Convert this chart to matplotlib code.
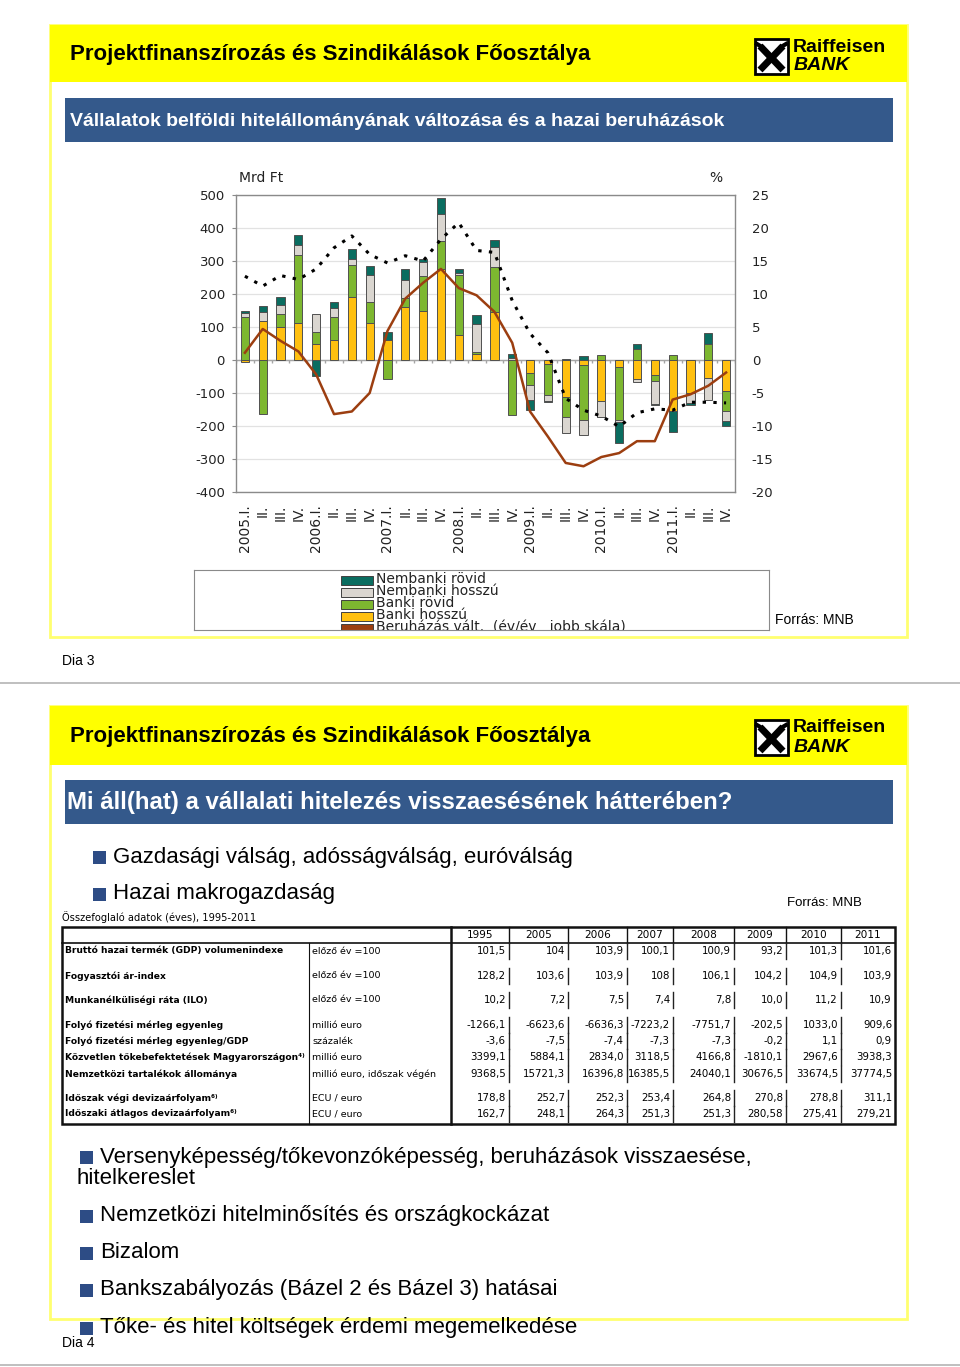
import matplotlib
matplotlib.use('Agg')
import matplotlib.pyplot as plt
from matplotlib.patches import Rectangle
import numpy as np

plt.rcParams['axes.unicode_minus'] = False

# ---------------- data: chart ----------------
quarters = ['2005.I.', 'II.', 'III.', 'IV.',
            '2006.I.', 'II.', 'III.', 'IV.',
            '2007.I.', 'II.', 'III.', 'IV.',
            '2008.I.', 'II.', 'III.', 'IV.',
            '2009.I.', 'II.', 'III.', 'IV.',
            '2010.I.', 'II.', 'III.', 'IV.',
            '2011.I.', 'II.', 'III.', 'IV.']
banki_hosszu = [-6, 117, 100, 112, 49, 60, 190, 113, 62, 161, 149, 277, 76, 17,
                146, 0, -40, -12, -112, -14, -123, -22, -58, -45, -156, -100, -56, -94]
banki_rovid = [131, -164, 40, 207, 35, 70, 97, 63, -57, 27, 106, 84, 181, 7,
               136, -166, -37, -94, -62, -169, 16, -159, 34, -20, 16, 0, 50, -60]
nembanki_hosszu = [10, 28, 26, 30, 55, 28, 19, 81, 0, 54, 42, 80, 8, 86,
                   61, 6, -44, -17, -48, -44, -49, -7, -9, -69, 0, -30, -65, -31]
nembanki_rovid = [6, 19, 24, 31, -47, 19, 30, 28, 22, 34, 8, 51, 11, 27,
                  20, 12, -31, -4, 3, 11, -2, -63, 14, -3, -61, -6, 31, -15]
beruhazas_valt = [1.1, 4.7, 2.9, 1.3, -2.2, -8.2, -7.8, -5.0, 4.4, 9.3, 11.7, 13.8, 10.9, 9.8,
                  7.3, 2.6, -7.8, -11.6, -15.6, -16.1, -14.7, -14.1, -12.3, -12.3, -6.0, -5.2, -3.9, -1.9]
hitel_valt = [12.7, 11.2, 12.8, 12.2, 13.8, 17.0, 18.8, 16.0, 14.7, 15.8, 15.0, 18.3, 20.8, 16.6,
              16.3, 9.0, 4.0, 1.1, -5.8, -7.6, -8.5, -10.1, -8.0, -7.4, -7.6, -6.4, -6.4, -6.5]
legend_labels = ['Nembanki rövid', 'Nembanki hosszú', 'Banki rövid', 'Banki hosszú',
                 'Beruházás vált.  (év/év,  jobb skála)']

# ---------------- data: table ----------------
table_years = ['1995', '2005', '2006', '2007', '2008', '2009', '2010', '2011']
row_labels = ['Bruttó hazai termék (GDP) volumenindexe', 'Fogyasztói ár-index',
              'Munkanélküliségi ráta (ILO)', 'Folyó fizetési mérleg egyenleg',
              'Folyó fizetési mérleg egyenleg/GDP', 'Közvetlen tőkebefektetések Magyarországon⁴⁾',
              'Nemzetközi tartalékok állománya', 'Időszak végi devizaárfolyam⁶⁾',
              'Időszaki átlagos devizaárfolyam⁶⁾']
row_units = ['előző év =100', 'előző év =100', 'előző év =100', 'millió euro', 'százalék',
             'millió euro', 'millió euro, időszak végén', 'ECU / euro', 'ECU / euro']
row_gdp = ['101,5', '104', '103,9', '100,1', '100,9', '93,2', '101,3', '101,6']
row_cpi = ['128,2', '103,6', '103,9', '108', '106,1', '104,2', '104,9', '103,9']
row_ilo = ['10,2', '7,2', '7,5', '7,4', '7,8', '10,0', '11,2', '10,9']
row_ca = ['-1266,1', '-6623,6', '-6636,3', '-7223,2', '-7751,7', '-202,5', '1033,0', '909,6']
row_ca_gdp = ['-3,6', '-7,5', '-7,4', '-7,3', '-7,3', '-0,2', '1,1', '0,9']
row_fdi = ['3399,1', '5884,1', '2834,0', '3118,5', '4166,8', '-1810,1', '2967,6', '3938,3']
row_res = ['9368,5', '15721,3', '16396,8', '16385,5', '24040,1', '30676,5', '33674,5', '37774,5']
row_fx_end = ['178,8', '252,7', '252,3', '253,4', '264,8', '270,8', '278,8', '311,1']
row_fx_avg = ['162,7', '248,1', '264,3', '251,3', '251,3', '280,58', '275,41', '279,21']

bullets_top = ['Gazdasági válság, adósságválság, euróválság', 'Hazai makrogazdaság']
bullets_bottom = ['Versenyképesség/tőkevonzóképesség, beruházások visszaesése,',
                  'Nemzetközi hitelminősítés és országkockázat', 'Bizalom',
                  'Bankszabályozás (Bázel 2 és Bázel 3) hatásai',
                  'Tőke- és hitel költségek érdemi megemelkedése']

# ---------------- styling ----------------
W, H = 960, 1367
YELLOW = '#FFFF00'
YELLOW_LINE = '#FFFF70'
BLUE = '#34598B'
NAVY = '#2D4C85'
C_TEAL = '#0A6D60'
C_GRAY = '#DAD6D0'
C_GREEN = '#7DB730'
C_ORANGE = '#FFC010'
C_BROWN = '#9C3E10'
ARIAL = 'Liberation Sans'

fig = plt.figure(figsize=(W / 100, H / 100), dpi=100)
fig.patch.set_facecolor('white')

page = fig.add_axes([0, 0, 1, 1])
page.set_xlim(0, W)
page.set_ylim(H, 0)
page.axis('off')


def logo(y0):
    page.add_patch(Rectangle((755, y0 + 1), 33, 35, facecolor='white', edgecolor='black', lw=2, zorder=3))
    page.plot([760, 783], [y0 + 8, y0 + 32], color='black', lw=5, solid_capstyle='butt', zorder=4)
    page.plot([783, 760], [y0 + 8, y0 + 32], color='black', lw=5, solid_capstyle='butt', zorder=4)
    page.plot([757, 762], [y0 + 6, y0 + 9], color='black', lw=3, zorder=4)
    page.plot([786, 781], [y0 + 6, y0 + 9], color='black', lw=3, zorder=4)
    page.text(793, y0 + 9, 'Raiffeisen', family=ARIAL, weight='bold', fontsize=14,
              ha='left', va='center', zorder=4)
    page.text(794, y0 + 28, 'BANK', family=ARIAL, weight='bold', style='italic', fontsize=14,
              ha='left', va='center', zorder=4)


def slide_frame(top, header_h, bottom):
    page.add_patch(Rectangle((50, top), 857, bottom - top, facecolor='none',
                             edgecolor=YELLOW_LINE, lw=2, zorder=1))
    page.add_patch(Rectangle((50, top), 857, header_h, facecolor=YELLOW,
                             edgecolor='none', zorder=1))
    page.text(70, top + header_h / 2 + 1, 'Projektfinanszírozás és Szindikálások Főosztálya',
              family=ARIAL, weight='bold', fontsize=16, ha='left', va='center', zorder=4)
    logo(top + 13)


# ---------- slide 1 ----------
slide_frame(25, 57, 637)
page.add_patch(Rectangle((65, 98), 828, 44, facecolor=BLUE, edgecolor='none', zorder=2))
page.text(70, 121, 'Vállalatok belföldi hitelállományának változása és a hazai beruházások',
          family=ARIAL, weight='bold', fontsize=14, color='white', ha='left', va='center', zorder=4)
page.text(239, 178, 'Mrd Ft', fontsize=10, ha='left', va='center', color='#222222')
page.text(709, 178, '%', fontsize=10, ha='left', va='center', color='#222222')
page.text(775, 620, 'Forrás: MNB', family=ARIAL, fontsize=10, ha='left', va='center')
page.text(62, 661, 'Dia 3', family=ARIAL, fontsize=10, ha='left', va='center')
page.plot([0, W], [683, 683], color='#b4b4b4', lw=1.2)

# chart
ax = fig.add_axes([236 / W, 1 - 492 / H, (735 - 236) / W, (492 - 195) / H])
n = len(quarters)
x = np.arange(n)
ax.set_xlim(-0.5, n - 0.5)
ax.set_ylim(-400, 500)
ax.set_yticks(np.arange(-400, 501, 100))
ax.yaxis.grid(True, color='#e2e2e2', lw=0.9)
ax.set_axisbelow(True)
for s in ax.spines.values():
    s.set_color('#8a8a8a')
    s.set_linewidth(1.0)
ax.tick_params(axis='y', length=3, color='#8a8a8a', labelsize=9.5, pad=5, labelcolor='#222222')
ax.set_xticks(x)
ax.set_xticklabels(quarters, rotation=90, fontsize=10, color='#222222')
ax.tick_params(axis='x', length=0, pad=9)
ax.axhline(0, color='#a5a5a5', lw=1.0, zorder=1)
bounds = np.arange(n + 1) - 0.5
ax.vlines(bounds, -9, 0, color='#a5a5a5', lw=1.0, zorder=1)

series = [(banki_hosszu, C_ORANGE), (banki_rovid, C_GREEN),
          (nembanki_hosszu, C_GRAY), (nembanki_rovid, C_TEAL)]
pos = np.zeros(n)
neg = np.zeros(n)
for vals, col in series:
    v = np.array(vals, dtype=float)
    base = np.where(v >= 0, pos, neg)
    m = v != 0
    ax.bar(x[m], v[m], bottom=base[m], width=0.46, color=col, edgecolor='#505050',
           linewidth=0.7, zorder=2)
    pos += np.where(v > 0, v, 0)
    neg += np.where(v < 0, v, 0)

ax2 = ax.twinx()
ax2.set_ylim(-20, 25)
ax2.set_yticks(np.arange(-20, 26, 5))
ax2.tick_params(axis='y', length=0, labelsize=9.5, pad=12, labelcolor='#222222')
for s in ax2.spines.values():
    s.set_visible(False)
ax2.plot(x, hitel_valt, color='black', lw=2.2, linestyle=(0, (1.1, 2.4)), zorder=3)
ax2.plot(x, beruhazas_valt, color=C_BROWN, lw=1.8, zorder=4)

# legend (clipped box as in the source)
lg = fig.add_axes([194 / W, 1 - 630 / H, (769 - 194) / W, (630 - 570) / H])
lg.set_xlim(194, 769)
lg.set_ylim(630, 570)
lg.set_xticks([])
lg.set_yticks([])
for s in lg.spines.values():
    s.set_color('#8a8a8a')
lg_colors = [C_TEAL, C_GRAY, C_GREEN, C_ORANGE, C_BROWN]
for i, (lab, col) in enumerate(zip(legend_labels, lg_colors)):
    yc = 580 + 12 * i
    lg.add_patch(Rectangle((341, yc - 4.5), 32, 9, facecolor=col, edgecolor='#404040',
                           lw=0.7, clip_on=True))
    lg.text(376, yc - 1, lab, fontsize=10, ha='left', va='center', color='#222222', clip_on=True)

# ---------- slide 2 ----------
slide_frame(706, 59, 1319)
page.add_patch(Rectangle((65, 780), 828, 44, facecolor=BLUE, edgecolor='none', zorder=2))
page.text(67, 803, 'Mi áll(hat) a vállalati hitelezés visszaesésének hátterében?',
          family=ARIAL, weight='bold', fontsize=17.3, color='white', ha='left', va='center', zorder=4)

for i, b in enumerate(bullets_top):
    yc = 857 + 37 * i
    page.add_patch(Rectangle((93, yc - 6.5), 13, 13, facecolor=NAVY, edgecolor='none', zorder=3))
    page.text(113, yc, b, family=ARIAL, fontsize=16, ha='left', va='center', zorder=4)
page.text(787, 903, 'Forrás: MNB', family=ARIAL, fontsize=9.5, ha='left', va='center')
page.text(62, 917, 'Összefoglaló adatok (éves), 1995-2011', fontsize=7.1, ha='left', va='center')

# table
col_edges = [451, 509, 568, 627, 673, 734, 786, 841, 895]
t_top, t_head, t_bot = 927, 943, 1124
row_y = [951, 976, 1000, 1025, 1041, 1057, 1074, 1098, 1114]
rows = [row_gdp, row_cpi, row_ilo, row_ca, row_ca_gdp, row_fdi, row_res, row_fx_end, row_fx_avg]
page.add_patch(Rectangle((62, t_top), 895 - 62, t_bot - t_top, facecolor='none',
                         edgecolor='#111111', lw=1.8, zorder=3))
page.plot([62, 895], [t_head, t_head], color='#111111', lw=1.2, zorder=3)
page.plot([451, 451], [t_top, t_bot], color='#111111', lw=1.8, zorder=3)
page.plot([309, 309], [t_head, t_bot], color='#111111', lw=0.8, zorder=3)
for xe in col_edges[1:-1]:
    page.plot([xe, xe], [t_top, t_head], color='#111111', lw=1.0, zorder=3)
for j, yr in enumerate(table_years):
    page.text((col_edges[j] + col_edges[j + 1]) / 2, (t_top + t_head) / 2 + 0.5, yr,
              fontsize=7.6, ha='center', va='center', zorder=4)
for lab, unit, vals, yc in zip(row_labels, row_units, rows, row_y):
    page.text(65, yc, lab, fontsize=6.6, weight='bold', ha='left', va='center', zorder=4)
    page.text(312, yc, unit, fontsize=6.8, ha='left', va='center', zorder=4)
    for j, v in enumerate(vals):
        page.text(col_edges[j + 1] - 3, yc, v, fontsize=7.4, ha='right', va='center', zorder=4)
    for xe in col_edges[1:-1]:
        page.plot([xe, xe], [yc - 8, yc + 8], color='#222222', lw=1.0, zorder=3)

for i, b in enumerate(bullets_bottom):
    yc = [1157, 1216, 1253, 1290, 1328][i]
    page.add_patch(Rectangle((80, yc - 6.5), 13, 13, facecolor=NAVY, edgecolor='none', zorder=3))
    page.text(100, yc, b, family=ARIAL, fontsize=16, ha='left', va='center', zorder=4)
page.text(77, 1179, 'hitelkereslet', family=ARIAL, fontsize=16, ha='left', va='center', zorder=4)
page.text(62, 1343, 'Dia 4', family=ARIAL, fontsize=10, ha='left', va='center')
page.plot([0, W], [1365, 1365], color='#b4b4b4', lw=1.2)

fig.savefig('out.png', dpi=100, facecolor='white')
